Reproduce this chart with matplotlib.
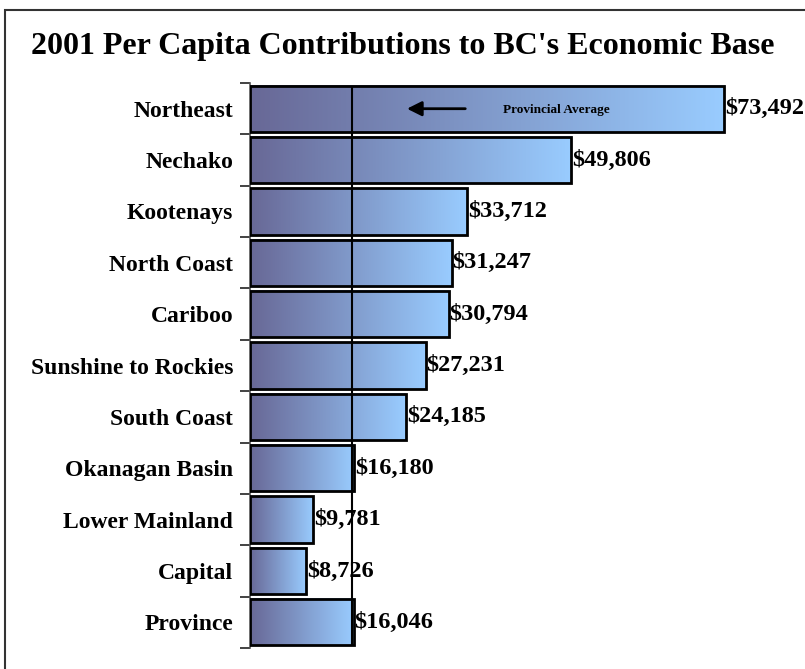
import numpy as np
import matplotlib
matplotlib.use('Agg')
import matplotlib.pyplot as plt
from matplotlib.colors import LinearSegmentedColormap
from matplotlib.patches import Rectangle

# data
regions = ['Northeast', 'Nechako', 'Kootenays', 'North Coast', 'Cariboo',
           'Sunshine to Rockies', 'South Coast', 'Okanagan Basin',
           'Lower Mainland', 'Capital', 'Province']
values = [73492, 49806, 33712, 31247, 30794, 27231, 24185, 16180, 9781, 8726, 16046]
prov_avg = 16046

plt.rcParams['font.family'] = ['Liberation Serif', 'DejaVu Serif']
plt.rcParams['font.weight'] = 'bold'

fig = plt.figure(figsize=(8.05, 6.69), dpi=100)
ax = fig.add_axes([0.3106, 0.0314, 0.641, 0.8445])

cmap = LinearSegmentedColormap.from_list('barfade', ['#686896', '#99CCFF'])
grad = np.linspace(0, 1, 256).reshape(1, -1)
h = 0.9

for i, v in enumerate(values):
    ax.imshow(grad, cmap=cmap, aspect='auto', extent=[0, v, i + h / 2, i - h / 2],
              zorder=1, interpolation='bilinear')
    ax.add_patch(Rectangle((0, i - h / 2), v, h, fill=False, edgecolor='black',
                           linewidth=2, zorder=3))
    ax.text(v + 150, i, '${:,}'.format(v), va='center', ha='left',
            fontsize=17.5, fontweight='bold')

ax.vlines(prov_avg - 300, -h / 2, len(values) - 1 + h / 2, color='black', linewidth=1.5, zorder=4)
ax.annotate('', xy=(23900, 0.0), xytext=(33800, 0.0),
            arrowprops=dict(arrowstyle='-|>', color='black', lw=2, mutation_scale=22), zorder=5)
ax.text(47500, 0.02, 'Provincial Average', ha='center', va='center',
        fontsize=9.5, fontweight='bold', zorder=5)

ax.set_xlim(0, 80000)
ax.set_ylim(len(values) - 0.5, -0.5)
ax.set_yticks(np.arange(len(values)))
ax.set_yticklabels(regions, fontsize=17, fontweight='bold')
ax.set_yticks(np.arange(-0.5, len(values)), minor=True)
ax.tick_params(axis='y', which='major', length=0, pad=12)
ax.tick_params(axis='y', which='minor', length=7, width=1.2, color='#222222')
ax.set_xticks([])
for s in ['top', 'right', 'bottom']:
    ax.spines[s].set_visible(False)
ax.spines['left'].set_color('#555555')
ax.spines['left'].set_linewidth(1.2)

fig.text(0.5, 0.931, "2001 Per Capita Contributions to BC's Economic Base",
         ha='center', va='center', fontsize=23, fontweight='bold')

fig.patches.append(Rectangle((0.006, -0.05), 1.1, 0.05 + 0.985, transform=fig.transFigure,
                             fill=False, edgecolor='#333333', linewidth=1.5))

fig.savefig('out.png', dpi=100)
